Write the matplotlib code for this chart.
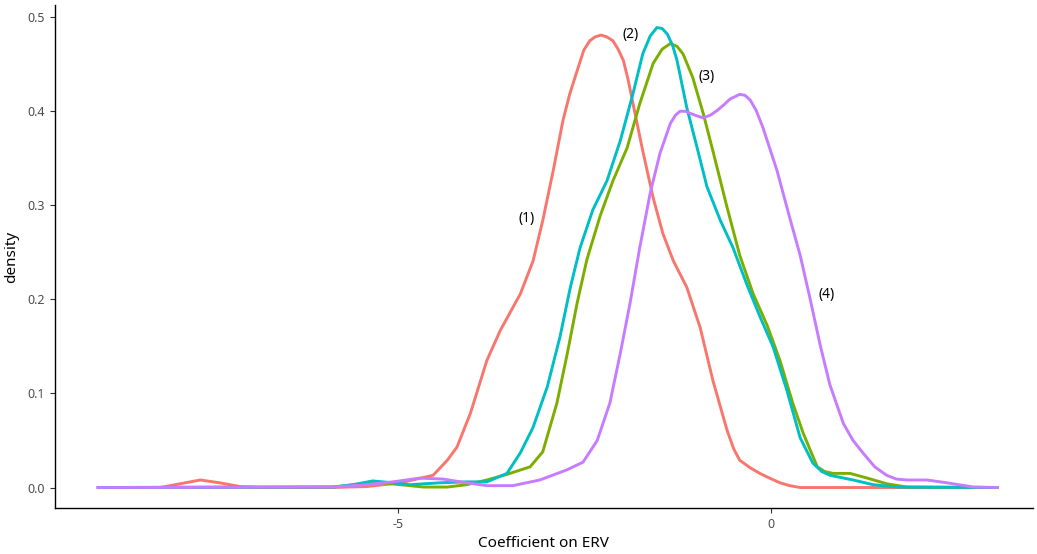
import matplotlib
matplotlib.use("Agg")
import matplotlib.pyplot as plt

# density curves, (x, density) per specification
x1 = [-9.02, -8.19, -7.92, -7.65, -7.39, -7.12, -6.85, -5.91, -5.42, -4.97, -4.53,
      -4.34, -4.21, -4.03, -3.81, -3.63, -3.36, -3.19, -3.06, -2.92, -2.79, -2.70,
      -2.60, -2.51, -2.43, -2.36, -2.28, -2.20, -2.12, -2.05, -1.98, -1.92, -1.85,
      -1.72, -1.58, -1.45, -1.31, -1.13, -0.95, -0.78, -0.59, -0.50, -0.42, -0.28,
      -0.15, -0.02, 0.12, 0.25, 0.39, 3.03]
y1 = [0.0, 0.0, 0.004, 0.008, 0.005, 0.001, 0.0, 0.0, 0.001, 0.005, 0.013,
      0.029, 0.043, 0.079, 0.135, 0.167, 0.206, 0.241, 0.284, 0.337, 0.390, 0.418,
      0.443, 0.465, 0.475, 0.479, 0.481, 0.479, 0.475, 0.466, 0.454, 0.435, 0.408,
      0.358, 0.308, 0.270, 0.241, 0.213, 0.170, 0.114, 0.061, 0.041, 0.029, 0.021,
      0.015, 0.010, 0.005, 0.002, 0.0, 0.0]

x2 = [-9.02, -5.87, -5.60, -5.34, -5.07, -4.84, -4.44, -4.08, -3.81, -3.54, -3.36,
      -3.19, -3.00, -2.83, -2.69, -2.56, -2.39, -2.20, -2.02, -1.85, -1.72, -1.62,
      -1.53, -1.46, -1.39, -1.32, -1.26, -1.13, -0.99, -0.86, -0.68, -0.51, -0.32,
      -0.15, 0.03, 0.21, 0.39, 0.56, 0.68, 0.79, 1.10, 1.37, 1.69, 3.03]
y2 = [0.0, 0.0005, 0.003, 0.007, 0.005, 0.003, 0.005, 0.006, 0.006, 0.015, 0.037,
      0.064, 0.107, 0.160, 0.213, 0.255, 0.295, 0.326, 0.369, 0.419, 0.461, 0.480,
      0.489, 0.488, 0.482, 0.470, 0.454, 0.404, 0.361, 0.320, 0.284, 0.255, 0.215,
      0.182, 0.149, 0.104, 0.053, 0.026, 0.017, 0.013, 0.008, 0.003, 0.0005, 0.0]

x3 = [-9.02, -5.87, -5.60, -5.34, -4.97, -4.66, -4.34, -4.08, -3.81, -3.54, -3.23,
      -3.06, -2.87, -2.73, -2.60, -2.47, -2.29, -2.12, -1.93, -1.76, -1.58, -1.46,
      -1.35, -1.26, -1.18, -1.05, -0.91, -0.78, -0.59, -0.42, -0.24, -0.05, 0.12,
      0.29, 0.43, 0.62, 0.72, 0.83, 1.06, 1.29, 1.55, 1.82, 3.03]
y3 = [0.0, 0.0005, 0.003, 0.006, 0.003, 0.0005, 0.0005, 0.003, 0.008, 0.014, 0.022,
      0.038, 0.090, 0.143, 0.196, 0.242, 0.289, 0.326, 0.361, 0.408, 0.451, 0.466,
      0.472, 0.469, 0.461, 0.436, 0.398, 0.358, 0.298, 0.247, 0.206, 0.172, 0.135,
      0.090, 0.058, 0.022, 0.017, 0.015, 0.015, 0.010, 0.004, 0.0005, 0.0]

x4 = [-9.02, -5.87, -5.42, -5.07, -4.71, -4.40, -4.08, -3.81, -3.46, -3.10, -2.73,
      -2.52, -2.33, -2.16, -2.02, -1.89, -1.76, -1.62, -1.49, -1.35, -1.28, -1.22,
      -1.15, -1.09, -0.99, -0.91, -0.81, -0.72, -0.63, -0.55, -0.42, -0.35, -0.28,
      -0.20, -0.11, 0.08, 0.25, 0.39, 0.52, 0.66, 0.79, 0.97, 1.10, 1.23, 1.39,
      1.55, 1.68, 1.82, 2.09, 2.36, 2.71, 3.03]
y4 = [0.0, 0.0005, 0.003, 0.006, 0.010, 0.009, 0.005, 0.002, 0.002, 0.008, 0.019,
      0.027, 0.050, 0.090, 0.143, 0.196, 0.255, 0.313, 0.355, 0.387, 0.396, 0.400,
      0.400, 0.398, 0.395, 0.393, 0.396, 0.401, 0.407, 0.413, 0.418, 0.417, 0.412,
      0.401, 0.383, 0.337, 0.287, 0.247, 0.202, 0.151, 0.109, 0.068, 0.050, 0.037,
      0.022, 0.013, 0.009, 0.008, 0.008, 0.005, 0.0005, 0.0]

colors = ["#F8766D", "#7CAE00", "#00BFC4", "#C77CFF"]
labels = ["(1)", "(2)", "(3)", "(4)"]
label_x = [-3.28, -1.88, -0.87, 0.74]
label_y = [0.286, 0.482, 0.437, 0.205]

plt.rcParams["font.family"] = ["Noto Sans", "DejaVu Sans"]

fig = plt.figure(figsize=(10.37, 5.54), dpi=100)
ax = fig.add_axes([0.053, 0.083, 0.943, 0.908])

for xs, ys, c in zip([x1, x3, x2, x4], [y1, y3, y2, y4],
                     [colors[0], colors[1], colors[2], colors[3]]):
    ax.plot(xs, ys, color=c, lw=2.1, solid_joinstyle="round")

for lx, ly, lab in zip(label_x, label_y, labels):
    ax.text(lx, ly, lab, ha="center", va="center", fontsize=10, color="black")

ax.set_xlim(-9.6, 3.51)
ax.set_ylim(-0.0218, 0.513)
ax.set_xticks([-5, 0])
ax.set_xticklabels(["-5", "0"])
ax.set_yticks([0.0, 0.1, 0.2, 0.3, 0.4, 0.5])
ax.set_yticklabels(["0.0", "0.1", "0.2", "0.3", "0.4", "0.5"])
ax.tick_params(length=3.5, width=0.8, color="#333333", labelcolor="#4D4D4D",
               labelsize=9)
for side in ("top", "right"):
    ax.spines[side].set_visible(False)
for side in ("left", "bottom"):
    ax.spines[side].set_linewidth(1.0)
    ax.spines[side].set_color("black")
ax.set_xlabel("Coefficient on ERV", fontsize=11, labelpad=4)
ax.set_ylabel("density", fontsize=11, labelpad=6)

fig.savefig("out.png", dpi=100)
